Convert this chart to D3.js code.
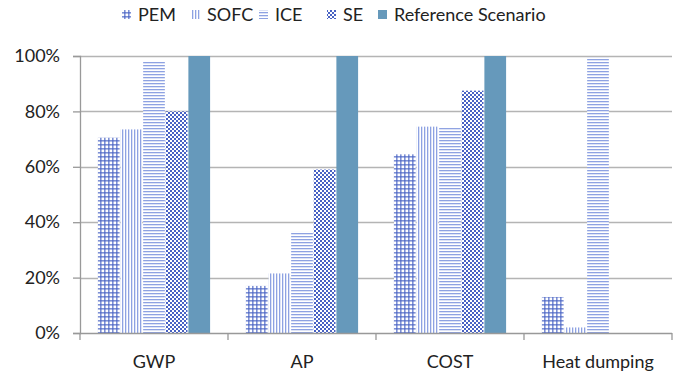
<!DOCTYPE html>
<html>
<head>
<meta charset="utf-8">
<script src="https://cdn.jsdelivr.net/npm/d3@7"></script>
<style>
  html, body { margin: 0; padding: 0; background: #fff; }
  text { font-family: Lato, "Open Sans", sans-serif; fill: #222; }
</style>
</head>
<body>
<svg id="chart" width="675" height="373"></svg>
<script>
// Relative impact of each technology versus the reference scenario
const categories = ["GWP", "AP", "COST", "Heat dumping"];
const seriesNames = ["PEM", "SOFC", "ICE", "SE", "Reference Scenario"];
const pemValues  = [0.705, 0.17, 0.645, 0.13];
const sofcValues = [0.735, 0.215, 0.745, 0.02];
const iceValues  = [0.98, 0.365, 0.74, 0.995];
const seValues   = [0.80, 0.59, 0.875, 0];
const refValues  = [1.0, 1.0, 1.0, 0];
const yTicks = [0, 0.2, 0.4, 0.6, 0.8, 1.0];

const seriesValues = [pemValues, sofcValues, iceValues, seValues, refValues];

const svg = d3.select("#chart");
const margin = { top: 56, right: 3, bottom: 40, left: 80 };
const width = 675, height = 373;
const innerW = width - margin.left - margin.right;
const innerH = height - margin.top - margin.bottom;

// Hatch patterns used to fill each series
const defs = svg.append("defs");
const dark = "#4862c4", light = "#8ea2e2";

const pGrid = defs.append("pattern").attr("id", "pat-pem")
  .attr("patternUnits", "userSpaceOnUse").attr("width", 4).attr("height", 4);
pGrid.append("rect").attr("width", 4).attr("height", 4).attr("fill", "#fff");
pGrid.append("rect").attr("x", 0).attr("y", 0).attr("width", 1.6).attr("height", 4).attr("fill", dark).attr("opacity", 0.7);
pGrid.append("rect").attr("x", 0).attr("y", 0).attr("width", 4).attr("height", 1.6).attr("fill", dark).attr("opacity", 0.7);

const pVert = defs.append("pattern").attr("id", "pat-sofc")
  .attr("patternUnits", "userSpaceOnUse").attr("width", 3).attr("height", 3);
pVert.append("rect").attr("width", 3).attr("height", 3).attr("fill", "#fff");
pVert.append("rect").attr("x", 0).attr("width", 1.3).attr("height", 3).attr("fill", light);

const pHorz = defs.append("pattern").attr("id", "pat-ice")
  .attr("patternUnits", "userSpaceOnUse").attr("width", 3).attr("height", 3);
pHorz.append("rect").attr("width", 3).attr("height", 3).attr("fill", "#fff");
pHorz.append("rect").attr("y", 0).attr("width", 3).attr("height", 1.3).attr("fill", light);

const pCheck = defs.append("pattern").attr("id", "pat-se")
  .attr("patternUnits", "userSpaceOnUse").attr("width", 4).attr("height", 4);
pCheck.append("rect").attr("width", 4).attr("height", 4).attr("fill", "#fff");
pCheck.append("rect").attr("x", 0).attr("y", 0).attr("width", 2).attr("height", 2).attr("fill", dark);
pCheck.append("rect").attr("x", 2).attr("y", 2).attr("width", 2).attr("height", 2).attr("fill", dark);

const fills = ["url(#pat-pem)", "url(#pat-sofc)", "url(#pat-ice)", "url(#pat-se)", "#6699bb"];

const g = svg.append("g").attr("transform", `translate(${margin.left},${margin.top})`);

const x0 = d3.scaleBand().domain(categories).range([0, innerW]).paddingInner(0).paddingOuter(0);
const x1 = d3.scaleBand().domain(seriesNames).range([17, x0.bandwidth() - 17]).padding(0.04);
const y = d3.scaleLinear().domain([0, 1]).range([innerH, 0]);

// Horizontal gridlines
g.append("g").selectAll("line").data(yTicks.filter(d => d > 0)).join("line")
  .attr("x1", 0).attr("x2", innerW)
  .attr("y1", d => Math.round(y(d)) + 0.5).attr("y2", d => Math.round(y(d)) + 0.5)
  .attr("stroke", "#b4b4b4").attr("stroke-width", 1.3);

// Bars
const groups = g.selectAll("g.cat").data(categories).join("g")
  .attr("class", "cat")
  .attr("transform", d => `translate(${x0(d)},0)`);

groups.selectAll("rect").data((c, i) => seriesNames.map((s, j) => ({ s, j, v: seriesValues[j][i] })))
  .join("rect")
  .attr("x", d => x1(d.s))
  .attr("width", x1.bandwidth())
  .attr("y", d => y(d.v))
  .attr("height", d => innerH - y(d.v))
  .attr("fill", d => fills[d.j]);

// Y axis
const yAxis = d3.axisLeft(y).tickValues(yTicks).tickFormat(d3.format(".0%")).tickSize(7).tickPadding(13);
const ya = g.append("g").call(yAxis);
ya.select(".domain").attr("stroke", "#999").attr("stroke-width", 1.3).attr("d", `M-7,0.5H0.5V${innerH + 0.5}H-7`);
ya.selectAll(".tick line").attr("x1", 0).attr("x2", -7).attr("stroke", "#999").attr("stroke-width", 1.3);
ya.selectAll(".tick text").attr("x", -20).style("font-size", "18px").style("font-family", "Lato, 'Open Sans', sans-serif").attr("fill", "#222");

// X axis with ticks between categories
const xa = g.append("g").attr("transform", `translate(0,${innerH})`);
xa.append("line").attr("x1", 0).attr("x2", innerW).attr("y1", 0.5).attr("y2", 0.5)
  .attr("stroke", "#999").attr("stroke-width", 1.3);
xa.selectAll("line.tk").data(categories.map(c => x0(c)).concat([innerW])).join("line")
  .attr("class", "tk")
  .attr("x1", d => d).attr("x2", d => d).attr("y1", 0).attr("y2", 7)
  .attr("stroke", "#999").attr("stroke-width", 1.3);
xa.selectAll("text").data(categories).join("text")
  .attr("x", d => x0(d) + x0.bandwidth() / 2)
  .attr("y", 35)
  .attr("text-anchor", "middle")
  .style("font-size", "18px")
  .text(d => d);

// Legend
const legendItems = [
  { name: "PEM", x: 122 },
  { name: "SOFC", x: 191 },
  { name: "ICE", x: 259 },
  { name: "SE", x: 327 },
  { name: "Reference Scenario", x: 378 }
];
const lg = svg.append("g");
legendItems.forEach((d, i) => {
  lg.append("rect").attr("x", d.x).attr("y", 10).attr("width", 9).attr("height", 9).attr("fill", fills[i]);
  lg.append("text").attr("x", d.x + 16).attr("y", 21).style("font-size", "18px").text(d.name);
});
</script>
</body>
</html>
